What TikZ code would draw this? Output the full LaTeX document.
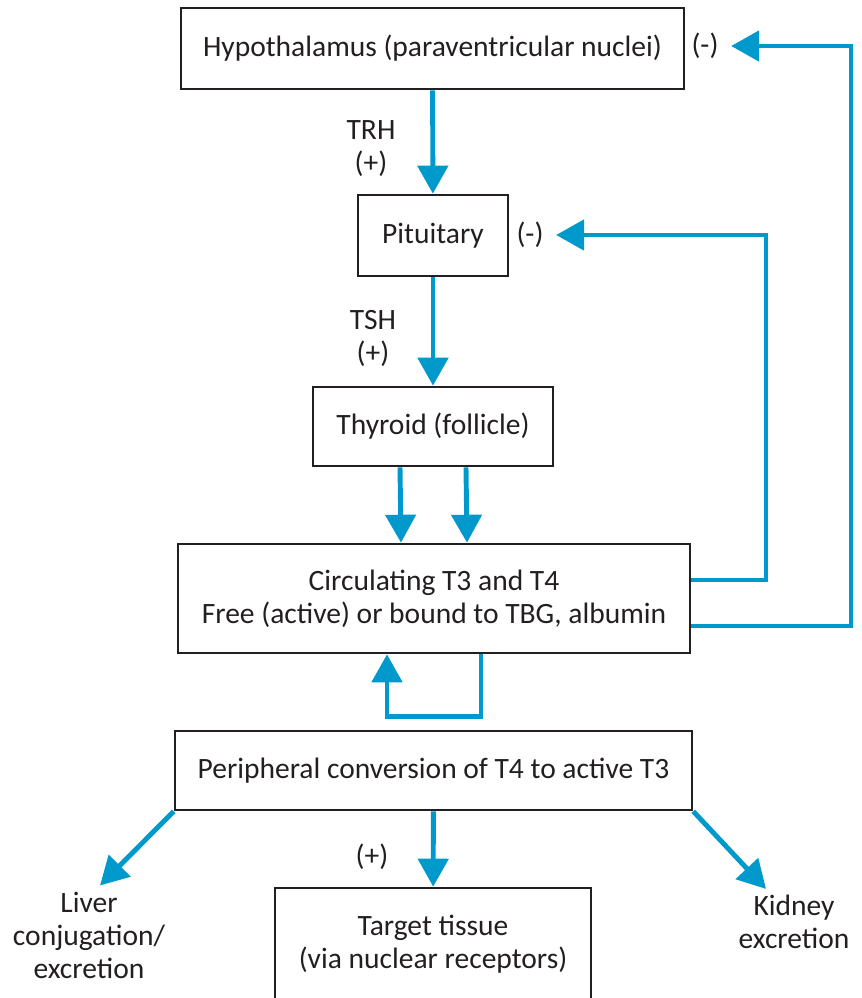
\documentclass[tikz,border=0pt]{standalone}
\usepackage{fontspec}
\setmainfont{Carlito}
\usepackage{xcolor}
\usepackage{tikz}
\usetikzlibrary{arrows.meta}

\definecolor{flowblue}{RGB}{0,153,204}
\definecolor{inkgray}{RGB}{35,31,32}

\begin{document}
\begin{tikzpicture}[
  x=0.02cm, y=-0.02cm,
  every node/.style={font=\fontsize{16.8}{18.8}\selectfont, text=inkgray},
  box/.style={draw=inkgray, line width=1.5pt, align=center, inner sep=0pt},
  arr/.style={-{Triangle[length=0.56cm, width=0.6cm]}, line width=2.8pt, draw=flowblue},
  lbl/.style={align=center},
  sgn/.style={inner xsep=7pt}
]
\clip (0,0) rectangle (862,998);

% Boxes
\node[box, minimum width=10.06cm, minimum height=1.62cm] (hyp) at (432.5,48.5)
  {Hypothalamus (paraventricular nuclei)};
\node[box, minimum width=3cm, minimum height=1.62cm] (pit) at (433,235.5) {Pituitary};
\node[box, minimum width=4.8cm, minimum height=1.58cm] (thy) at (433,426.5) {Thyroid (follicle)};
\node[box, minimum width=10.24cm, minimum height=2.18cm] (circ) at (434,598.5)
  {Circulating T3 and T4\\Free (active) or bound to TBG, albumin};
\node[box, minimum width=10.34cm, minimum height=1.58cm] (periph) at (433.5,770.5)
  {Peripheral conversion of T4 to active T3};
\node[box, minimum width=6.32cm, minimum height=2.24cm] (target) at (433,944)
  {Target tissue\\(via nuclear receptors)};

% Labels
\node[lbl] (trh) at (371,149) {TRH\\(+)};
\node[lbl] (tsh) at (373,338) {TSH\\(+)};
\node (tplus) at (372,857) {(+)};
\node[sgn] (hypminus) at (705,46) {(-)};
\node[sgn] (pitminus) at (530,235) {(-)};
\node[lbl] (liver) at (89,935) {Liver\\conjugation/\\excretion};
\node[lbl] (kidney) at (794,922) {Kidney\\excretion};

\coordinate (hypcorner) at (851,46);
\coordinate (pitcorner) at (766,235);

% Stimulation
\draw[arr] (hyp) -- (pit);
\draw[arr] (pit) -- (thy);
\draw[arr] ([xshift=-0.66cm]thy.south) -- ([xshift=-0.66cm]circ.north);
\draw[arr] ([xshift=0.66cm]thy.south) -- ([xshift=0.66cm]circ.north);

% Negative feedback
\draw[arr] ([yshift=0.37cm]circ.east) -| (pitcorner) -- (pitminus.east);
\draw[arr] ([yshift=-0.55cm]circ.east) -| (hypcorner) -- (hypminus.east);

% Conversion loop
\draw[arr] ([xshift=0.94cm]circ.south) -- ++(0,-1.24cm) -| ([xshift=-0.94cm]circ.south);

% Fate
\draw[arr] (periph) -- (target);
\draw[arr] (periph.south west) -- ([xshift=0.22cm]liver.north);
\draw[arr] (periph.south east) -- ([xshift=-0.56cm]kidney.north);
\end{tikzpicture}
\end{document}
